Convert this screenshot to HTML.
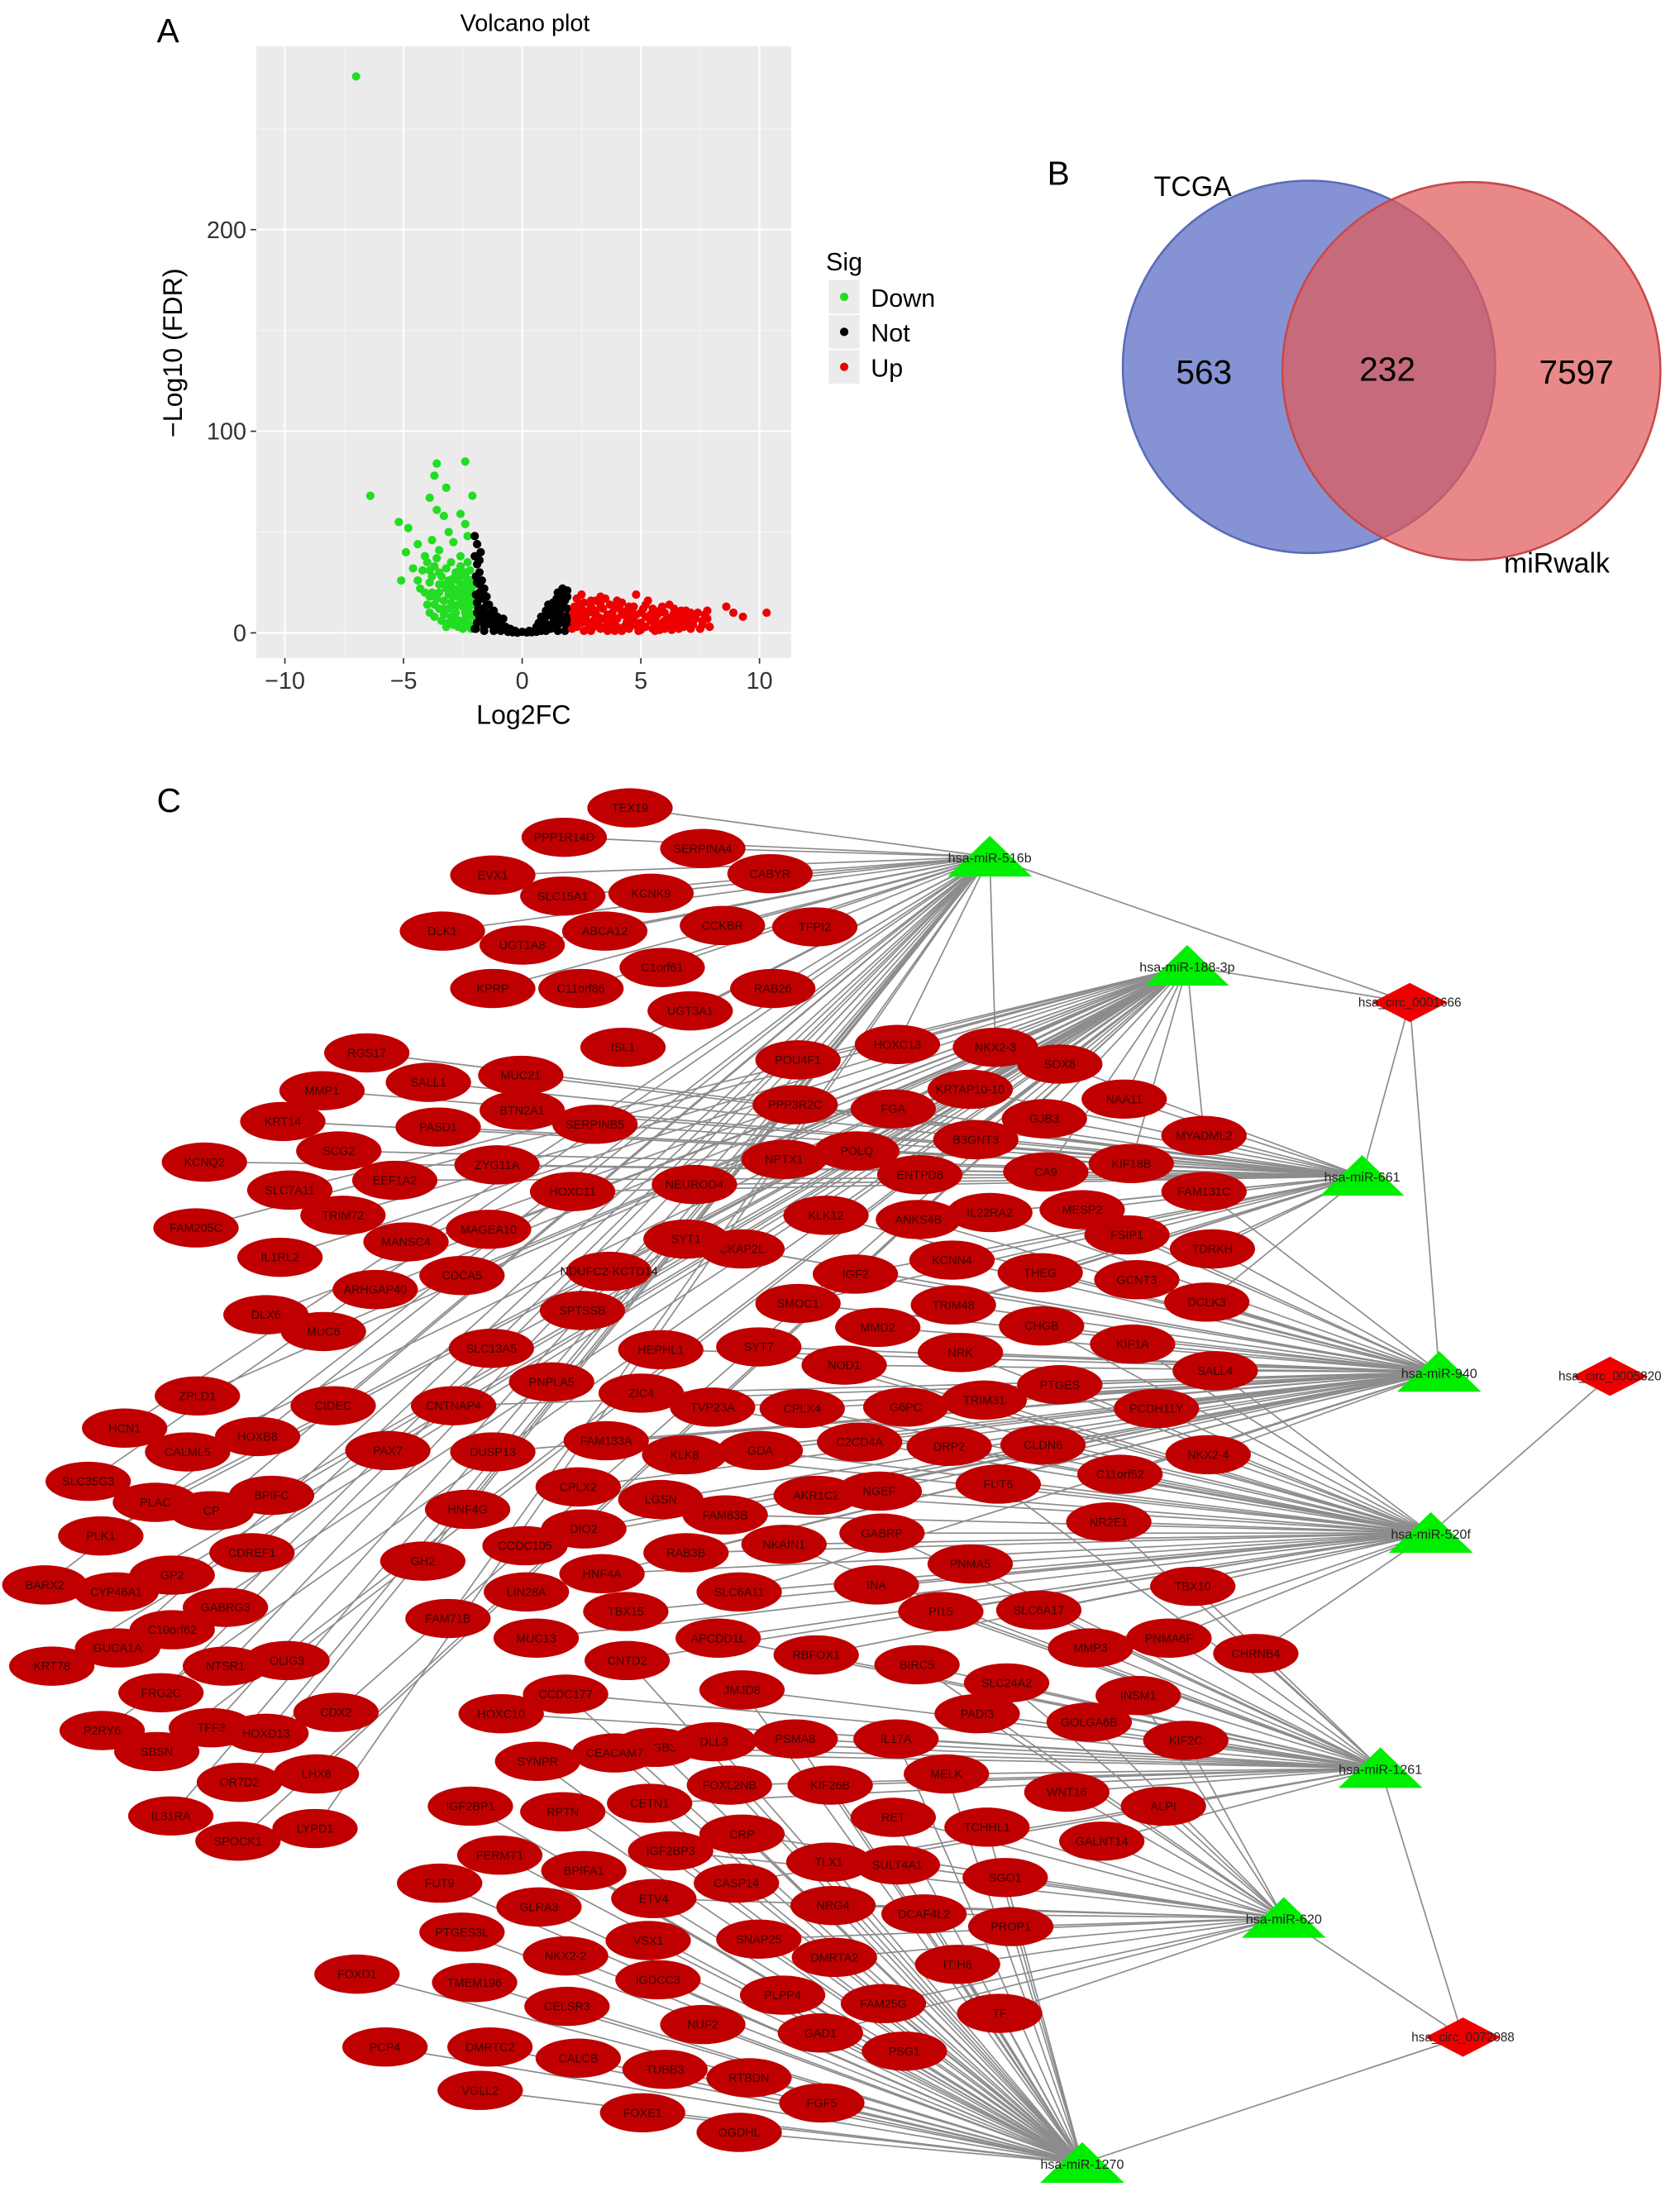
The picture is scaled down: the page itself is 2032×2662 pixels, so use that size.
<!DOCTYPE html>
<html><head><meta charset="utf-8"><style>
html,body{margin:0;padding:0;background:#fff}
svg{display:block;font-family:"Liberation Sans",sans-serif}
</style></head><body>
<svg id="fig" width="2032" height="2662" viewBox="0 0 1200 1572">
<text x="112" y="30" font-size="24">A</text>
<text x="748" y="132" font-size="24">B</text>
<text x="112" y="580" font-size="24">C</text>
<g id="volcano"></g>
<g id="venn">
<circle cx="935" cy="262" r="133" fill="#7080cc" fill-opacity="0.85" stroke="#5a6ab8" stroke-width="1.5"/>
<circle cx="1051" cy="265" r="135" fill="#e05a5a" fill-opacity="0.72" stroke="#c84848" stroke-width="1.5"/>
<text x="852" y="140" font-size="20" text-anchor="middle">TCGA</text>
<text x="1112" y="409" font-size="20" text-anchor="middle">miRwalk</text>
<text x="860" y="274" font-size="24" text-anchor="middle">563</text>
<text x="991" y="272" font-size="24" text-anchor="middle">232</text>
<text x="1126" y="274" font-size="24" text-anchor="middle">7597</text>
</g>
<g id="net"></g>
</svg>
<script>
const NS='http://www.w3.org/2000/svg';
function mk(tag,attrs,parent){const e=document.createElementNS(NS,tag);for(const k in attrs)e.setAttribute(k,attrs[k]);parent.appendChild(e);return e;}

// ---------- Volcano data ----------
const xTicks=[-10,-5,0,5,10];
const yTicks=[0,100,200];
const downPts=[[-7,276],[-6.4,68],[-3.6,84],[-2.4,85],[-3.7,78],[-3.2,72],[-3.9,67],[-2.1,68],[-3.6,61],[-3.3,58],[-2.6,59],[-5.2,55],[-4.8,52],[-3.1,50],[-2.4,54],[-4.4,44],[-3.8,46],[-2.9,45],[-2.3,48],[-4.9,40],[-4.1,38],[-3.5,41],[-2.6,38],[-5.1,26],[-4.6,32],[-4.2,31],[-3.7,33],[-3.0,35],[-2.3,35],[-3.9,25],[-3.4,28],[-2.9,27],[-2.4,28],[-4.3,22],[-3.8,20],[-3.2,22],[-2.7,22],[-3.6,17],[-3.0,15],[-2.5,16],[-2.2,20],[-3.3,12],[-2.8,10],[-2.3,12],[-2.6,6],[-2.2,4],[-3.0,8],[-2.1,8],[-3.5,24],[-3.1,19],[-2.8,30],[-2.5,24],[-2.2,26],[-4.0,14],[-3.5,12],[-2.9,18],[-2.4,10],[-2.1,14],[-3.8,28],[-3.2,32],[-2.7,14],[-2.3,18],[-2.2,31],[-3.4,6],[-2.9,4],[-2.5,2],[-3.1,26],[-2.6,33],[-4.0,35],[-3.6,37],
[-3.9,10],[-3.7,8],[-3.3,9],[-3.1,5],[-2.8,7],[-2.4,7],[-2.2,10],[-2.1,17],[-2.3,22],[-2.5,20],[-2.7,18],[-2.9,21],[-3.1,12],[-3.3,16],[-3.5,20],[-3.7,14],[-3.9,18],[-4.1,20],[-4.4,26],[-3.3,24],[-3.0,24],[-2.7,26],[-2.4,30],[-2.1,23],[-2.3,26],[-2.6,29],[-3.5,30],[-3.9,31],[-2.8,13],[-2.5,13],[-2.2,15],[-3.2,3],[-2.7,3],[-2.35,5],[-2.15,2]];
const notPts=[[-2,38],[-1.9,34],[-1.8,30],[-1.7,26],[-1.6,22],[-1.5,18],[-1.9,25],[-1.8,20],[-1.9,15],[-1.7,12],[-1.5,10],[-1.3,8],[-1.1,6],[-0.9,4],[-0.7,3],[-0.5,2],[-0.3,1],[0,0.5],[0.3,1],[0.6,3],[0.9,6],[1.2,10],[1.4,14],[1.6,18],[1.8,16],[1.9,12],[1.9,8],[1.7,5],[1.5,4],[1.2,2],[1,1],[0.6,0.5],[-1.9,5],[-1.9,10],[-1.6,6],[-1.3,4],[-1,2],[1.9,3],[1.8,1],[-2,2],[-1.9,44],[-2.0,48],[-1.8,36],[1.5,20],[1.7,22],[1.3,15],[-1.4,14],[-1.2,11],[-0.8,7],[0.8,8],[1.0,11],[1.1,14],[1.6,10],[1.8,8],[-1.7,17],[-1.5,14],[-1.8,8],[-1.6,3],[-1.2,1],[-0.6,0.5],[0.2,0.2],[1.4,7],[1.6,13],[1.9,18],[1.75,20],[1.3,5],[0.9,2],[-1.75,40],[-1.95,28],[-1.85,12],
[-1.7,8],[-1.4,6],[-1.1,3],[-0.9,1],[-0.4,0.3],[0.4,0.3],[0.8,1],[1.1,4],[1.3,8],[1.5,11],[1.7,14],[1.85,5],[1.6,7],[-1.95,19],[-1.8,24],[-1.65,20],[-1.5,6],[-1.35,10],[-1.05,8],[0.7,5],[1.0,8],[1.2,12],[1.45,17],[1.9,21],[1.65,16],[-1.95,2],[-1.6,1],[1.5,1],[1.95,5],[-0.2,0.1]];
const upPts=[[2.3,17],[2.6,15],[2.9,13],[3.1,16],[3.5,17],[4.1,12],[4.8,19],[5.2,14],[6.0,10],[6.4,12],[7.1,10],[7.7,9],[8.6,13],[8.9,10],[9.3,8],[10.3,10],[2.2,8],[2.5,5],[2.8,3],[3.2,8],[3.6,6],[4.0,3],[4.4,8],[4.8,5],[5.2,8],[5.6,4],[6.0,6],[6.4,3],[6.8,6],[7.2,4],[7.6,6],[7.9,3],[2.4,11],[3.0,10],[3.4,12],[3.8,10],[4.2,15],[4.6,11],[5.0,10],[5.5,12],[5.9,13],[6.3,8],[6.7,9],[7.3,7],[7.8,11],[2.1,2],[2.6,1],[3.3,2],[3.9,1],[4.5,2],[5.0,1.5],[5.8,1.5],[6.6,2],[2.2,13],[2.7,9],[3.7,14],[4.4,5],[5.4,6],[6.1,4],[7.0,8],[7.5,2],[3.0,6],[4.9,3],[5.7,9],[6.9,11],[2.5,19],[3.3,18],[4.0,16],
[2.2,5],[2.4,7],[2.6,9],[2.8,11],[3.0,3],[3.2,5],[3.4,7],[3.6,9],[3.8,4],[4.0,7],[4.2,9],[4.4,11],[4.6,7],[4.8,9],[5.0,5],[5.2,3],[5.4,9],[5.6,7],[5.8,11],[6.0,2],[6.2,7],[6.4,10],[6.6,5],[6.8,3],[7.0,5],[7.2,8],[7.4,10],[7.6,4],[7.8,7],[2.3,3],[2.7,6],[3.1,11],[3.5,3],[3.9,13],[4.3,3],[4.7,13],[5.1,12],[5.5,2],[5.9,5],[6.3,5],[6.7,11],[7.1,2],[2.9,1],[3.6,1],[4.2,1],[4.9,1],[5.6,1],[6.3,1.5],[2.4,14],[2.9,16],[3.3,14],[4.5,13],[5.3,16],[6.2,14],[2.15,10],[2.5,12],[3.8,7],[4.7,4],[5.7,3],[6.5,7]];

(function(){
  const g=document.getElementById('volcano');
  const X=v=>373+v*16.95, Y=v=>452-v*1.44;
  const p=mk('rect',{x:183,y:33,width:382,height:437,fill:'#ebebeb'},g);
  
  
  [-7.5,-2.5,2.5,7.5].forEach(v=>mk('line',{x1:X(v),x2:X(v),y1:33,y2:470,stroke:'#f5f5f5','stroke-width':0.6},g));
  [50,150,250].forEach(v=>mk('line',{x1:183,x2:565,y1:Y(v),y2:Y(v),stroke:'#f5f5f5','stroke-width':0.6},g));
  xTicks.forEach(v=>{mk('line',{x1:X(v),x2:X(v),y1:33,y2:470,stroke:'#fff','stroke-width':1.2},g);
    mk('line',{x1:X(v),x2:X(v),y1:470,y2:474,stroke:'#333'},g);
    const t=mk('text',{x:X(v),y:492,'font-size':17,'text-anchor':'middle',fill:'#333'},g);t.textContent=(v<0?'\u2212'+(-v):v);
    
    });
  yTicks.forEach(v=>{mk('line',{x1:183,x2:565,y1:Y(v),y2:Y(v),stroke:'#fff','stroke-width':1.2},g);
    mk('line',{x1:179,x2:183,y1:Y(v),y2:Y(v),stroke:'#333'},g);
    const t=mk('text',{x:176,y:Y(v)+6,'font-size':17,'text-anchor':'end',fill:'#333'},g);t.textContent=v;
    
    });
  const sets=[[downPts,'#22dd22'],[notPts,'#000'],[upPts,'#ee0000']];
  sets.forEach(([pts,c])=>pts.forEach(([a,b])=>{const d=mk('circle',{cx:X(a),cy:Y(b),r:3,fill:c},g);
    
    }));
  let t=mk('text',{x:375,y:22,'font-size':17,'text-anchor':'middle'},g);t.textContent='Volcano plot';
  
  
  t=mk('text',{x:374,y:517,'font-size':19,'text-anchor':'middle'},g);t.textContent='Log2FC';
  
  
  t=mk('text',{x:0,y:0,'font-size':19,'text-anchor':'middle',transform:'translate(130,252) rotate(-90)'},g);t.textContent='\u2212Log10 (FDR)';
  
  
  t=mk('text',{x:590,y:193,'font-size':18},g);t.textContent='Sig';
  
  
  [['Down','#22dd22',212],['Not','#000',237],['Up','#ee0000',262]].forEach(([n,c,y])=>{
    mk('rect',{x:592,y:y-12,width:22,height:24,fill:'#ebebeb'},g);
    mk('circle',{cx:603,cy:y,r:3,fill:c},g);
    const e=mk('text',{x:622,y:y+7,'font-size':18},g);e.textContent=n;
    
    });
})();

// ---------- Network data ----------
const mirNames=['hsa-miR-516b','hsa-miR-188-3p','hsa-miR-661','hsa-miR-940','hsa-miR-520f','hsa-miR-1261','hsa-miR-620','hsa-miR-1270'];
const mirPos=[[707,612],[848,690],[973,840],[1028,980],[1022,1095],[986,1263],[917,1370],[773,1545]];
const circNames=['hsa_circ_0001666','hsa_circ_0005820','hsa_circ_0072088'];
const circPos=[[1007,716],[1150,983],[1045,1455]];
const circEdges=[[0,0],[1,0],[2,0],[3,0],[4,1],[5,2],[6,2],[7,2]];
const genes=[
['TEX19',450,577,'0'],['PPP1R14D',403,598,'0'],['SERPINA4',502,606,'0'],['EVX1',352,625,'0'],['SLC15A1',402,640,'0'],['KCNK9',465,638,'0'],['CABYR',550,624,'0'],['DLK1',316,665,'0'],['UGT1A8',373,675,'0'],['ABCA12',432,665,'0'],['CCKBR',516,661,'0'],['TFPI2',582,662,'0'],['C1orf61',473,691,'0'],['KPRP',352,706,'0'],['C11orf86',415,706,'0'],['RAB26',552,706,'0'],['UGT3A1',493,722,'0'],['ISL1',445,748,'0'],
['RGS17',262,752,'2'],['SALL1',306,773,'2'],['MUC21',372,768,'2'],['MMP1',230,779,'2'],['BTN2A1',373,793,'2'],['PASD1',313,805,'2'],['SERPINB5',425,803,'2'],['KRT14',202,801,'2'],['KCNQ2',146,830,'2'],['SCG2',242,822,'2'],['ZYG11A',355,832,'2'],['EEF1A2',282,843,'2'],['HOXC11',409,851,'2'],['SLC7A11',207,850,'1'],['TRIM72',245,868,'1'],['FAM205C',140,877,'1'],['MANSC4',290,887,'1'],['MAGEA10',349,878,'1'],['IL1RL2',200,898,'1'],['ARHGAP40',268,921,'1'],['CDCA5',330,911,'1'],['NDUFC2-KCTD14',435,908,'1'],['DLX6',190,939,'1'],['MUC6',231,951,'1'],['SPTSSB',416,936,'1'],['SLC13A5',351,963,'1'],['HEPHL1',472,964,'3'],['PNPLA5',394,987,'0'],['ZIC4',458,995,'3'],['ZPLD1',141,997,'1'],['CIDEC',238,1004,'0'],['CNTNAP4',324,1004,'3'],['HCN1',89,1020,'0'],['CALML5',134,1037,'1'],['HOXB8',184,1026,'0'],['PAX7',277,1036,'1'],['DUSP13',352,1037,'3'],['FAM133A',433,1029,'3'],['SLC35G3',63,1058,'0'],['PLAC',111,1073,'1'],['CP',151,1079,'0'],['BPIFC',194,1068,'1'],['CPLX2',413,1062,'3'],['LGSN',472,1071,'3'],['PLK1',72,1097,'1'],['CDREF1',180,1109,'0'],['HNF4G',334,1078,'0'],['DIO2',417,1092,'3'],['GP2',123,1125,'1'],['BARX2',32,1132,'0'],['CYP46A1',83,1137,'1'],['GABRG3',161,1148,'0'],['C10orf62',123,1164,'1'],['GH2',302,1115,'0'],['CCDC105',375,1104,'3'],['HNF4A',430,1124,'4'],['LIN28A',376,1137,'3'],['GUCA1A',84,1177,'0'],['KRT78',37,1190,'1'],['NTSR1',161,1190,'0'],['OLIG3',205,1186,'1'],['FRG2C',115,1209,'0'],['FAM71B',320,1156,'0'],['TBX15',447,1151,'4'],['MUC13',383,1170,'4'],['P2RY6',73,1236,'1'],['TFF3',151,1234,'0'],['SBSN',112,1251,'1'],['HOXD13',190,1238,'0'],['CDX2',240,1223,'1'],['OR7D2',171,1273,'0'],['LHX8',226,1267,'1'],['IL31RA',122,1297,'0'],['SPOCK1',170,1315,'1'],['LYPD1',225,1306,'0'],
['HOXC10',358,1224,'5'],['CCDC177',404,1210,'57'],['CNTD2',448,1186,'47'],['HMGB3',468,1248,'57'],['SYNPR',384,1258,'7'],['CEACAM7',439,1252,'57'],['IGF2BP1',336,1290,'7'],['RPTN',402,1294,'7'],['CETN1',464,1288,'57'],['FERMT1',357,1325,'7'],['FUT9',314,1345,'7'],['BPIFA1',417,1336,'7'],['IGF2BP3',479,1322,'67'],['GLRA3',385,1362,'7'],['PTGES3L',330,1380,'7'],['ETV4',467,1356,'67'],['NKX2-2',404,1397,'7'],['VSX1',463,1386,'7'],['FOXD1',255,1410,'7'],['TMEM196',339,1416,'7'],['IGDCC3',470,1414,'7'],['CELSR3',405,1433,'7'],['PCP4',275,1462,'7'],['DMRTC2',350,1462,'7'],['CALCB',413,1470,'7'],['NUF2',502,1446,'7'],['VGLL2',343,1493,'7'],['TUBB3',475,1478,'7'],['FOXE1',459,1509,'7'],['RTBDN',535,1484,'7'],['OGDHL',528,1523,'7'],['FGF5',587,1502,'7'],['GAD1',586,1452,'67'],['PSG1',646,1465,'7'],['FAM25G',631,1431,'67'],['PLPP4',559,1425,'7'],['DMRTA2',596,1398,'67'],['SNAP25',542,1385,'67'],['CASP14',526,1345,'57'],['TLX1',592,1330,'57'],['CRP',530,1310,'67'],['NRG4',595,1361,'67'],['FOXL2NB',521,1275,'57'],['DLL3',510,1244,'57'],['JMJD8',530,1207,'57'],['KIF26B',593,1275,'57'],['PSMA8',568,1242,'57'],['APCDD1L',513,1170,'45'],['RBFOX1',583,1182,'45'],
['SLC6A11',528,1137,'34'],['RAB3B',490,1109,'34'],['NKAIN1',560,1103,'45'],['FAM83B',518,1082,'34'],['AKR1C2',583,1068,'34'],['GDA',543,1036,'34'],['KLK8',489,1039,'34'],['TVP23A',509,1005,'34'],['CPLX4',573,1006,'34'],['C2CD4A',614,1030,'34'],['NGEF',628,1065,'34'],['GABRP',630,1095,'45'],['DRP2',678,1033,'34'],['G6PC',647,1005,'34'],['TRIM31',703,1000,'34'],['NOD1',603,975,'34'],['SYT7',542,962,'34'],['SMOC1',570,931,'23'],['MMD2',627,948,'23'],['NRK',686,966,'34'],['TRIM48',681,932,'23'],['CHGB',744,947,'34'],['KIF1A',809,960,'34'],['PTGES',757,989,'34'],['SALL4',868,979,'34'],['PCDH11Y',826,1006,'34'],['CLDN6',745,1032,'34'],['NKX2-4',863,1039,'34'],['C11orf52',800,1053,'34'],['FUT6',713,1060,'45'],['NR2E1',792,1087,'45'],['PNMA5',693,1117,'45'],['INA',626,1132,'45'],['PI15',672,1151,'45'],['SLC6A17',742,1150,'45'],['TBX10',852,1133,'45'],['PNMA6F',835,1170,'45'],['MMP3',779,1177,'45'],['CHRNB4',897,1181,'45'],['BIRC5',655,1189,'56'],['SLC24A2',719,1202,'56'],['PADI3',698,1224,'56'],['GOLGA6B',778,1230,'56'],['INSM1',813,1211,'56'],['KIF2C',847,1243,'56'],['IL17A',640,1242,'57'],['MELK',676,1267,'57'],['RET',638,1298,'67'],['WNT16',762,1280,'56'],['ALPI',831,1290,'56'],['TCHHL1',705,1305,'67'],['GALNT14',787,1315,'56'],['SULT4A1',641,1332,'67'],['SGO1',718,1341,'67'],['DCAF4L2',660,1367,'67'],['PROP1',722,1376,'67'],['ITIH6',684,1403,'67'],['TF',714,1438,'67'],
['IGF2',611,910,'23'],['KCNN4',680,900,'23'],['THEG',743,909,'23'],['GCNT3',812,914,'23'],['DCLK3',862,930,'23'],['FSIP1',805,882,'23'],['TDRKH',866,892,'23'],['MESP2',773,864,'23'],['IL22RA2',707,866,'23'],['ANKS4B',656,871,'23'],['KLK12',590,868,'13'],['CKAP2L',530,892,'13'],['SYT1',490,885,'13'],['NEUROD4',496,846,'12'],['NPTX1',560,828,'12'],['POLQ',612,822,'12'],['ENTPD8',657,839,'12'],['CA9',747,837,'12'],['KIF18B',808,831,'12'],['FAM131C',860,851,'23'],['GJB3',746,799,'12'],['MYADML2',860,811,'12'],['B3GNT3',697,814,'12'],['NAA11',803,785,'12'],['FGA',638,792,'12'],['KRTAP10-10',693,778,'12'],['PPP3R2C',568,789,'12'],['POU4F1',570,757,'01'],['HOXC13',641,746,'01'],['NKX2-3',711,748,'01'],['SOX8',757,760,'12']
];

(function(){
  const g=document.getElementById('net');
  const eg=mk('g',{stroke:'#8c8c8c','stroke-width':1},g);
  
  
  genes.forEach(([n,x,y,t])=>t.split('').forEach(c=>{const m=mirPos[+c];
    const l=mk('line',{x1:x,y1:y,x2:m[0],y2:m[1]},eg);
    
    }));
  circEdges.forEach(([a,b])=>{const l=mk('line',{x1:mirPos[a][0],y1:mirPos[a][1],x2:circPos[b][0],y2:circPos[b][1]},eg);
    
    });
  genes.forEach(([n,x,y])=>{
    const ng=mk('g',{},g);
    
    
    mk('ellipse',{cx:x,cy:y,rx:30.5,ry:14,fill:'#c00000'},ng);
    const t=mk('text',{x:x,y:y+3,'font-size':8.5,'text-anchor':'middle',fill:'#3a0000'},ng);t.textContent=n;
  });
  mirNames.forEach((n,i)=>{const [x,y]=mirPos[i];
    const ng=mk('g',{},g);
    
    
    mk('polygon',{points:`${x},${y-15} ${x-30},${y+14} ${x+30},${y+14}`,fill:'#00ee00'},ng);
    const t=mk('text',{x:x,y:y+4,'font-size':9.5,'text-anchor':'middle',fill:'#222'},ng);t.textContent=n;
  });
  circNames.forEach((n,i)=>{const [x,y]=circPos[i];
    const ng=mk('g',{},g);
    
    
    mk('polygon',{points:`${x},${y-14} ${x+27},${y} ${x},${y+14} ${x-27},${y}`,fill:'#ee0000'},ng);
    const t=mk('text',{x:x,y:y+3,'font-size':9,'text-anchor':'middle',fill:'#222'},ng);t.textContent=n;
  });
})();
</script>
</body></html>
